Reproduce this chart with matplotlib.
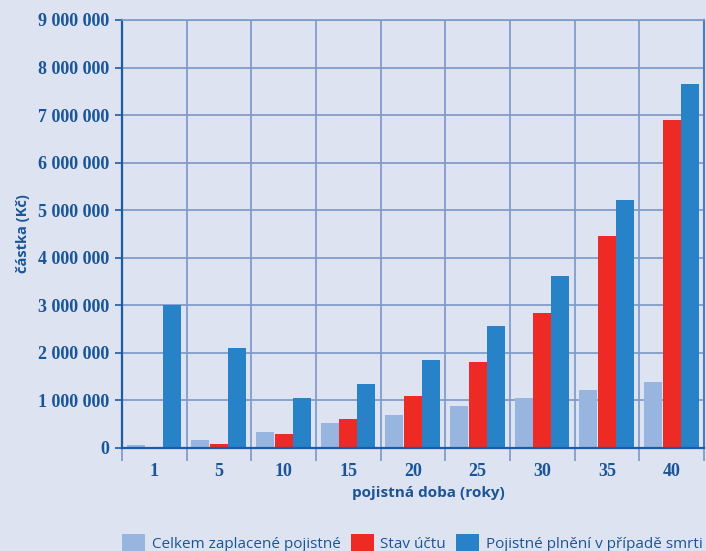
import numpy as np
import matplotlib.pyplot as plt
from matplotlib.ticker import FuncFormatter

# Data
years = ['1', '5', '10', '15', '20', '25', '30', '35', '40']
paid = [60000, 170000, 340000, 530000, 690000, 880000, 1050000, 1220000, 1390000]
account = [0, 85000, 290000, 610000, 1090000, 1810000, 2840000, 4460000, 6900000]
death = [3000000, 2100000, 1050000, 1350000, 1850000, 2570000, 3620000, 5210000, 7650000]

labels = ['Celkem zaplacené pojistné', 'Stav účtu', 'Pojistné plnění v případě smrti']
colors = ['#97b5de', '#ee2a24', '#2882c8']

bg = '#dde3f1'
dark = '#1c5ca6'
grid_col = '#7b98c8'
text_col = '#1a5598'

fig = plt.figure(figsize=(7.06, 5.51), dpi=100, facecolor=bg)
ax = fig.add_axes([122 / 706, 1 - 448 / 551, 582 / 706, 428 / 551])
ax.set_facecolor(bg)

x = np.arange(len(years))
w = 0.278
offs = [-0.29, 0.0, 0.278]
for vals, off, c, lab in zip([paid, account, death], offs, colors, labels):
    ax.bar(x + off, vals, width=w, color=c, label=lab, zorder=3)

ax.set_xlim(-0.5, len(years) - 0.5)
ax.set_ylim(0, 9000000)
ax.set_yticks(range(0, 9000001, 1000000))
ax.yaxis.set_major_formatter(FuncFormatter(lambda v, p: f"{int(v):,}".replace(',', ' ')))
ax.set_xticks(x)
ax.set_xticklabels(years)
ax.set_xticks(np.arange(-0.5, len(years), 1.0), minor=True)

ax.grid(axis='y', color=grid_col, linewidth=1.2, zorder=0)
ax.grid(axis='x', which='minor', color=grid_col, linewidth=1.2, zorder=0)

for s in ['left', 'bottom']:
    ax.spines[s].set_color(dark)
    ax.spines[s].set_linewidth(1.6)
ax.spines['right'].set_color('#4a7cc0')
ax.spines['right'].set_linewidth(1.5)
ax.spines['top'].set_color(grid_col)
ax.spines['top'].set_linewidth(1.2)
for s in ax.spines.values():
    s.set_zorder(4)

ax.tick_params(axis='y', length=5, color=dark, width=1.2, pad=4, labelcolor=text_col)
ax.tick_params(axis='x', which='major', length=0, pad=11, labelcolor=text_col)
ax.tick_params(axis='x', which='minor', length=9, color=grid_col, width=1.2)
for t in ax.get_yticklabels() + ax.get_xticklabels():
    t.set_fontfamily('Liberation Serif')
    t.set_fontweight('bold')
    t.set_fontsize(13)

ax.set_ylabel('částka (Kč)', family='Open Sans', weight='bold', size=10.5,
              color=text_col)
ax.yaxis.set_label_coords(-0.158, 0.5)
ax.set_xlabel('pojistná doba (roky)', family='Open Sans', weight='bold', size=11,
              color=text_col)
ax.xaxis.set_label_coords(0.527, -0.088)

leg = fig.legend(loc='upper left', bbox_to_anchor=(122 / 706, 1 - 534 / 551),
                 ncol=3, frameon=False, borderpad=0, borderaxespad=0,
                 handlelength=1.5, handleheight=1.4, handletextpad=0.45,
                 columnspacing=0.65, prop={'family': 'Open Sans', 'size': 11})
for t in leg.get_texts():
    t.set_color(text_col)

fig.savefig('out.png', dpi=100, facecolor=bg)
